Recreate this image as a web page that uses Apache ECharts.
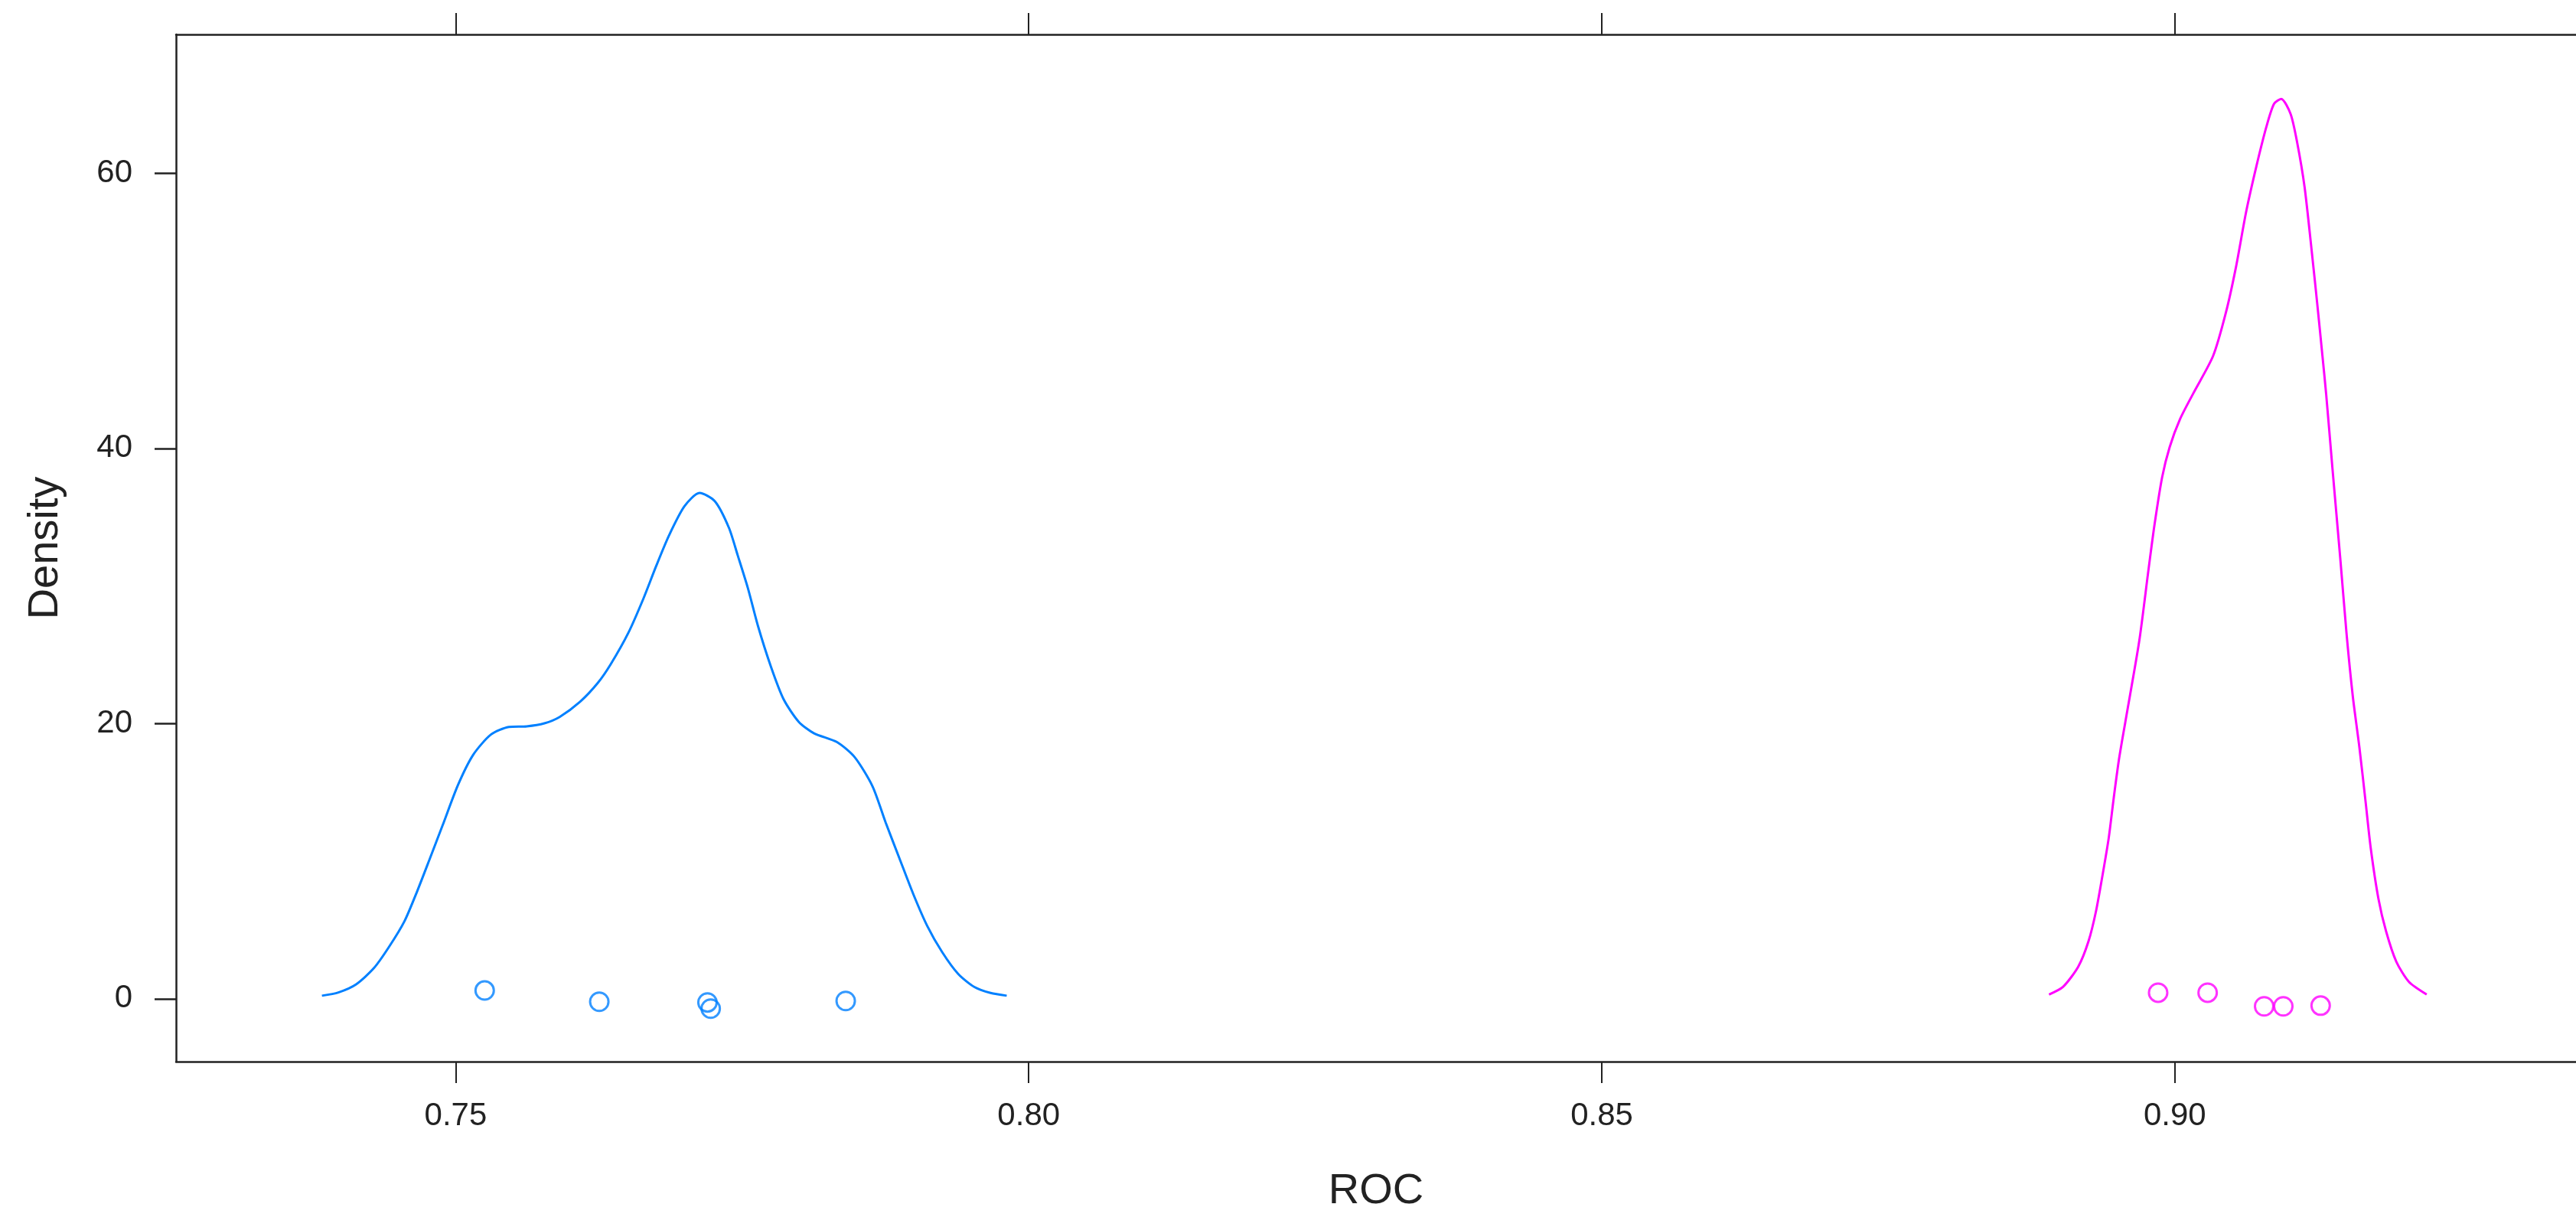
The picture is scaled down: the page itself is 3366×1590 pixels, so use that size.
<!DOCTYPE html>
<html>
<head>
<meta charset="utf-8">
<title>ROC density</title>
<script src="https://cdn.jsdelivr.net/npm/echarts@6/dist/echarts.min.js"></script>
<style>
  html, body { margin: 0; padding: 0; background: #fff; }
  #chart { width: 3366px; height: 1590px; }
</style>
</head>
<body>
<div id="chart"></div>
<script>
// Kernel density estimate of ROC for the first model (blue)
const densityA = [
  [0.73833, 0.22], [0.73977, 0.46], [0.74132, 1.05], [0.74288, 2.24], [0.74421, 3.80],
  [0.74553, 5.63], [0.74665, 7.83], [0.74776, 10.21], [0.74886, 12.60], [0.75020, 15.53],
  [0.75153, 17.73], [0.75308, 19.20], [0.75464, 19.75], [0.75620, 19.80], [0.75774, 20.02],
  [0.75907, 20.48], [0.76085, 21.58], [0.76240, 22.95], [0.76352, 24.30], [0.76507, 26.60],
  [0.76639, 29.10], [0.76751, 31.48], [0.76862, 33.68], [0.76996, 35.79], [0.77128, 36.76],
  [0.77262, 36.15], [0.77384, 34.23], [0.77461, 32.22], [0.77550, 29.83], [0.77638, 27.08],
  [0.77750, 24.15], [0.77861, 21.77], [0.77994, 20.12], [0.78127, 19.29], [0.78327, 18.65],
  [0.78482, 17.55], [0.78637, 15.44], [0.78752, 12.80], [0.78872, 10.20], [0.78993, 7.60],
  [0.79114, 5.30], [0.79244, 3.40], [0.79385, 1.80], [0.79526, 0.85], [0.79667, 0.42],
  [0.79808, 0.22]
];

// Kernel density estimate of ROC for the second model (magenta)
const densityB = [
  [0.88902, 0.31], [0.89024, 0.86], [0.89157, 2.33], [0.89246, 4.16], [0.89312, 6.36],
  [0.89368, 8.93], [0.89423, 11.68], [0.89467, 14.61], [0.89512, 17.37], [0.89568, 20.12],
  [0.89689, 25.98], [0.89769, 31.12], [0.89822, 34.42], [0.89889, 37.90],
  [0.89955, 40.10], [0.90045, 42.12], [0.90161, 44.00], [0.90333, 46.70], [0.90444, 49.82],
  [0.90532, 53.12], [0.90621, 57.15], [0.90710, 60.45], [0.90799, 63.38], [0.90865, 65.03],
  [0.90928, 65.40], [0.91010, 64.30], [0.91066, 62.28], [0.91132, 58.98], [0.91198, 54.03],
  [0.91244, 50.37], [0.91288, 46.70], [0.91320, 43.95], [0.91376, 38.45], [0.91443, 32.03],
  [0.91498, 26.53], [0.91553, 21.95], [0.91610, 18.28], [0.91665, 14.25], [0.91709, 10.95],
  [0.91776, 7.28], [0.91843, 4.90], [0.91932, 2.70], [0.92042, 1.23], [0.92197, 0.31]
];

// Individual resample ROC values, jittered vertically around zero
const pointsA = [
  [0.75253, 0.60], [0.76253, -0.22], [0.77197, -0.27], [0.77225, -0.72], [0.78403, -0.16]
];
const pointsB = [
  [0.89854, 0.44], [0.90286, 0.44], [0.90779, -0.55], [0.90946, -0.55], [0.91272, -0.50]
];

// Axis ticks
const xTicks = [0.75, 0.80, 0.85, 0.90];
const yTicks = [0, 20, 40, 60];

const colorA = '#0080ff';
const colorB = '#ff00ff';
const axisColor = '#222';
const font = '"Liberation Sans", Arial, Helvetica, sans-serif';

const chart = echarts.init(document.getElementById('chart'), null, { renderer: 'canvas' });

const xRange = { min: 0.7256, max: 0.935 };

chart.setOption({
  animation: false,
  backgroundColor: '#fff',
  grid: { left: 230, top: 45, width: 3145, height: 1357, show: false },
  xAxis: [
    {
      type: 'value', position: 'bottom', min: xRange.min, max: xRange.max,
      splitLine: { show: false },
      axisLine: { show: true, onZero: false, lineStyle: { color: axisColor, width: 2.5 } },
      axisTick: { show: true, length: 28, customValues: xTicks, lineStyle: { color: axisColor, width: 2 } },
      axisLabel: {
        customValues: xTicks, margin: 50, color: '#222', fontSize: 42, fontFamily: font,
        formatter: v => v.toFixed(2)
      },
      name: 'ROC', nameLocation: 'middle', nameGap: 142,
      nameTextStyle: { fontSize: 56, color: '#222', fontFamily: font }
    },
    {
      type: 'value', position: 'top', min: xRange.min, max: xRange.max,
      splitLine: { show: false },
      axisLine: { show: true, onZero: false, lineStyle: { color: axisColor, width: 2.5 } },
      axisTick: { show: true, length: 28, customValues: xTicks, lineStyle: { color: axisColor, width: 2 } },
      axisLabel: { show: false }
    }
  ],
  yAxis: {
    type: 'value', min: -4.57, max: 70.08,
    splitLine: { show: false },
    axisLine: { show: true, onZero: false, lineStyle: { color: axisColor, width: 2.5 } },
    axisTick: { show: true, length: 28, customValues: yTicks, lineStyle: { color: axisColor, width: 2.5 } },
    axisLabel: { customValues: yTicks, margin: 57, color: '#222', fontSize: 42, fontFamily: font },
    name: 'Density', nameLocation: 'middle', nameGap: 142, nameRotate: 90,
    nameTextStyle: { fontSize: 56, color: '#222', fontFamily: font }
  },
  series: [
    {
      type: 'line', data: densityA, showSymbol: false, smooth: 0.25,
      lineStyle: { color: colorA, width: 3 }, z: 2
    },
    {
      type: 'line', data: densityB, showSymbol: false, smooth: 0.25,
      lineStyle: { color: colorB, width: 3 }, z: 2
    },
    {
      type: 'scatter', data: pointsA, symbol: 'circle', symbolSize: 24,
      itemStyle: { color: 'rgba(0,0,0,0)', borderColor: colorA, borderWidth: 3 }, z: 3
    },
    {
      type: 'scatter', data: pointsB, symbol: 'circle', symbolSize: 24,
      itemStyle: { color: 'rgba(0,0,0,0)', borderColor: colorB, borderWidth: 3 }, z: 3
    }
  ]
});
</script>
</body>
</html>
